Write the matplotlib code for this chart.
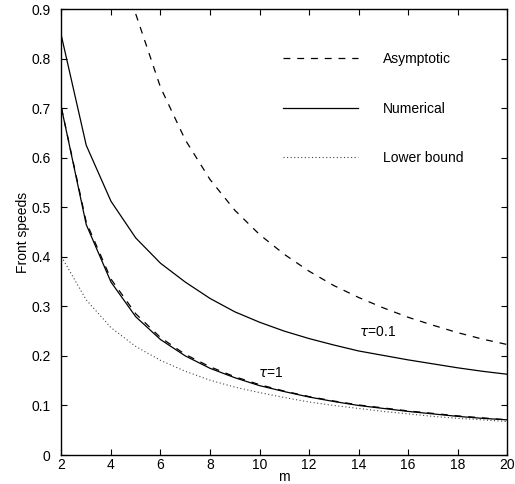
import matplotlib
matplotlib.use('Agg')
import matplotlib.pyplot as plt

# wave number m, sampled at integers
m = [2, 3, 4, 5, 6, 7, 8, 9, 10, 11, 12, 13, 14, 15, 16, 17, 18, 19, 20]
m_asym01 = [5, 6, 7, 8, 9, 10, 11, 12, 13, 14, 15, 16, 17, 18, 19, 20]

# tau = 0.1
num_tau01 = [0.845, 0.625, 0.512, 0.438, 0.387, 0.349, 0.316, 0.289, 0.268, 0.250,
             0.235, 0.222, 0.210, 0.201, 0.192, 0.184, 0.176, 0.169, 0.163]
asym_tau01 = [0.890, 0.742, 0.636, 0.556, 0.494, 0.445, 0.405, 0.371, 0.342, 0.318,
              0.297, 0.278, 0.262, 0.247, 0.234, 0.223]

# tau = 1
num_tau1 = [0.700, 0.465, 0.349, 0.279, 0.233, 0.200, 0.175, 0.156, 0.140, 0.128,
            0.117, 0.108, 0.100, 0.094, 0.088, 0.083, 0.078, 0.074, 0.071]
asym_tau1 = [0.700, 0.470, 0.355, 0.285, 0.237, 0.203, 0.178, 0.158, 0.142, 0.129,
             0.118, 0.109, 0.101, 0.095, 0.089, 0.084, 0.079, 0.075, 0.071]
lower_tau1 = [0.400, 0.313, 0.257, 0.219, 0.191, 0.169, 0.151, 0.137, 0.126, 0.116,
              0.107, 0.100, 0.094, 0.088, 0.083, 0.078, 0.074, 0.071, 0.0675]

plt.rcParams['font.family'] = ['Liberation Sans', 'DejaVu Sans']
plt.rcParams['font.size'] = 10

fig = plt.figure(figsize=(5.15, 4.84), dpi=100)
ax = fig.add_axes([0.1194, 0.0599, 0.8651, 0.9215])

dash = (0, (5.5, 5.5))
dots = (0, (1, 2.2))

ax.plot(m_asym01, asym_tau01, color='black', lw=0.9, linestyle=dash, label='Asymptotic')
ax.plot(m, num_tau01, color='black', lw=0.9, label='Numerical')
ax.plot(m, lower_tau1, color='#444444', lw=0.8, linestyle=dots, label='Lower bound')
ax.plot(m, num_tau1, color='black', lw=0.9)
ax.plot(m, asym_tau1, color='black', lw=0.9, linestyle=dash)

ax.text(14.75, 0.248, r'$\tau$=0.1', fontsize=10, ha='center', va='center')
ax.text(10.44, 0.166, r'$\tau$=1', fontsize=10, ha='center', va='center')

ax.set_xlim(2, 20)
ax.set_ylim(0, 0.9)
ax.set_xticks(range(2, 21, 2))
ax.set_yticks([i / 10 for i in range(10)])
ax.set_yticklabels(['0', '0.1', '0.2', '0.3', '0.4', '0.5', '0.6', '0.7', '0.8', '0.9'])
ax.tick_params(direction='in', top=True, right=True, length=4.5, width=0.8)
ax.tick_params(axis='x', pad=2)
ax.tick_params(axis='y', pad=8)
for s in ax.spines.values():
    s.set_linewidth(1.0)

ax.set_xlabel('m', labelpad=-1.5)
ax.set_ylabel('Front speeds', labelpad=1)

ax.legend(loc='upper right', bbox_to_anchor=(0.93, 0.931), frameon=False,
          handlelength=5.4, handletextpad=1.8, labelspacing=2.55)

fig.savefig('out.png', dpi=100)
